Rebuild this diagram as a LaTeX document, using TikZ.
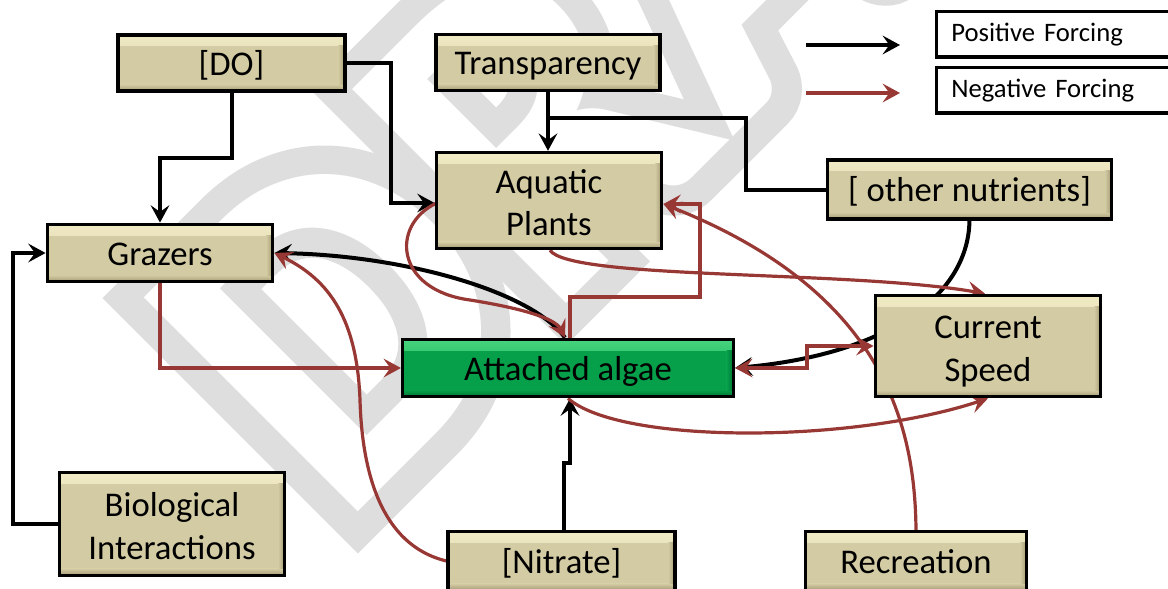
\documentclass[tikz,border=0pt]{standalone}
\usepackage{fontspec}
\setmainfont{Carlito}
\newfontfamily\wmfont[FakeBold=12.5]{Carlito Bold}
\newfontfamily\wmfontin{Carlito Bold}
\usetikzlibrary{arrows.meta,calc}
\definecolor{boxtan}{RGB}{211,203,163}
\definecolor{boxtanhi}{RGB}{240,234,196}
\definecolor{boxtanlo}{RGB}{165,155,118}
\definecolor{algaegreen}{RGB}{6,160,74}
\definecolor{algaehi}{RGB}{70,212,125}
\definecolor{algaelo}{RGB}{0,115,50}
\definecolor{negred}{RGB}{152,56,52}
\definecolor{wmgray}{RGB}{222,222,222}
\newcommand\sone{\rule[-6pt]{0pt}{30pt}}
\newcommand\ttop{\rule{0pt}{27pt}}
\newcommand\tbot{\rule[-6pt]{0pt}{6pt}}
\pgfdeclarelayer{wm}
\pgfdeclarelayer{edges}
\pgfsetlayers{wm,edges,main}
\begin{document}
\begin{tikzpicture}[x=0.75pt,y=-0.75pt,
  bevel/.style n args={3}{path picture={
    \fill[top color=#1, bottom color=#2] (path picture bounding box.north west) rectangle ([yshift=-8pt]path picture bounding box.north east);
    \fill[top color=#2, bottom color=#3] ([yshift=5pt]path picture bounding box.south west) rectangle (path picture bounding box.south east);
    \fill[left color=#2, right color=#3] ([xshift=-5pt,yshift=-8pt]path picture bounding box.north east) rectangle ([yshift=5pt]path picture bounding box.south east);
  }},
  tanbox/.style={draw=black, line width=2.6pt, fill=boxtan, inner sep=0pt, align=center,
    font=\fontsize{26}{32}\selectfont, bevel={boxtanhi}{boxtan}{boxtanlo}},
  greenbox/.style={tanbox, fill=algaegreen, bevel={algaehi}{algaegreen}{algaelo}},
  legbox/.style={draw=black, line width=2.6pt, fill=white, inner xsep=11pt, inner ysep=0pt,
    text width=156pt, align=left, minimum height=34pt, font=\fontsize{20}{24}\selectfont},
  arrowtip/.style={-{Stealth[length=13pt,width=14pt,inset=5pt]}},
  posline/.style={draw=black, line width=3pt, arrowtip},
  negline/.style={draw=negred, line width=2.4pt, arrowtip},
  plainline/.style={draw=black, line width=3pt},
  wmtext/.style={anchor=base west, rotate=45, inner sep=0pt}
]
\useasboundingbox (0,0) rectangle (1168,589);

% nodes
\node[tanbox, minimum width=170pt, minimum height=42pt] (do) at (231.5,63) {\sone[DO]};
\node[tanbox, minimum width=168pt, minimum height=42pt] (tr) at (548,62.5) {\sone Transparency};
\node[tanbox, minimum width=169pt, minimum height=72pt] (ap) at (549,200.5) {\ttop Aquatic\\\tbot Plants};
\node[tanbox, minimum width=213pt, minimum height=44pt] (on) at (969.5,189.5) {\sone[ other nutrients]};
\node[tanbox, minimum width=169pt, minimum height=43pt] (gr) at (160,253) {\sone Grazers};
\node[greenbox, minimum width=248pt, minimum height=43pt] (aa) at (568,368) {\sone Attached algae};
\node[tanbox, minimum width=169pt, minimum height=76pt] (cs) at (988,346) {\ttop Current\\\tbot Speed};
\node[tanbox, minimum width=169pt, minimum height=77pt] (bi) at (172,524) {\ttop Biological\\\tbot Interactions};
\node[tanbox, minimum width=170pt, minimum height=44pt] (ni) at (561.5,561) {\sone[Nitrate]};
\node[tanbox, minimum width=166pt, minimum height=44pt] (re) at (916,561) {\sone Recreation};

% legend
\node[legbox, anchor=north west] (lp) at (935,10) {Positive Forcing};
\node[legbox, anchor=north west] (ln) at (935,66) {Negative Forcing};
\coordinate (lpa) at (806,45);
\coordinate (lpb) at (900,45);
\coordinate (lna) at (806,93);
\coordinate (lnb) at (900,93);
\draw[posline] (lpa) -- (lpb);
\draw[negline] (lna) -- (lnb);

% watermark
\begin{pgfonlayer}{wm}
\node[wmtext, text=wmgray, font=\wmfont\fontsize{350}{350}\selectfont] (wmo) at (339,531) {DRAFT};
\node[wmtext, text=white, font=\wmfontin\fontsize{350}{350}\selectfont] (wmi) at (339,531) {DRAFT};
\end{pgfonlayer}

\begin{pgfonlayer}{edges}
% positive (black)
\draw[posline] (do.south) -- ++(0,65) -| (gr.north);
\draw[posline] (do.east) -- ++(44,0) |- ($(ap.west)+(0,2.5)$);
\draw[posline] (tr.south) -- (tr.south |- ap.north);
\draw[plainline] (on.west) -- ++(-80,0) |- ($(tr.south)+(0,26)$);
\draw[posline] (bi.west) -- ++(-45,0) |- (gr.west);
\draw[posline] ($(aa.north)+(-3,0)$) .. controls (530,290) and (400,255) .. (gr.east);
\draw[posline] ($(ni.north)+(2,0)$) -- ++(0,-67) -- ++(6.5,0) -- ($(aa.south)+(2,0)$);
\draw[posline] (on.south) .. controls (968,300) and (880,355) .. (aa.east);
% negative (red)
\draw[negline] (gr.south) |- (aa.west);
\draw[negline] (ni.west) .. controls (380,545) and (362,470) .. (360,400)
   .. controls (357,320) and (330,280) .. (gr.east);
\draw[negline] ($(ap.west)+(2,2.5)$) .. controls (390,225) and (395,290) .. (470,300)
   .. controls (520,308) and (555,318) .. ($(aa.north)+(-3,0)$);
\draw[negline] ($(aa.north)+(2,0)$) |- (700,297) -- (700,204) -- ($(ap.east)+(0,3.5)$);
\draw[negline] ($(ap.south)+(1,0)$) .. controls (570,280) and (850,270) .. ($(cs.north)+(-3,0)$);
\draw[negline] (aa.south) .. controls (620,444) and (850,444) .. (cs.south);
\draw[negline, {Stealth[length=13pt,width=14pt,inset=5pt]}-{Stealth[length=13pt,width=14pt,inset=5pt]}] (aa.east) -- ++(72,0) |- (cs.west);
\draw[negline] (re.north) .. controls (915,420) and (880,290) .. ($(ap.east)+(0,3.5)$);
\end{pgfonlayer}
\end{tikzpicture}
\end{document}
